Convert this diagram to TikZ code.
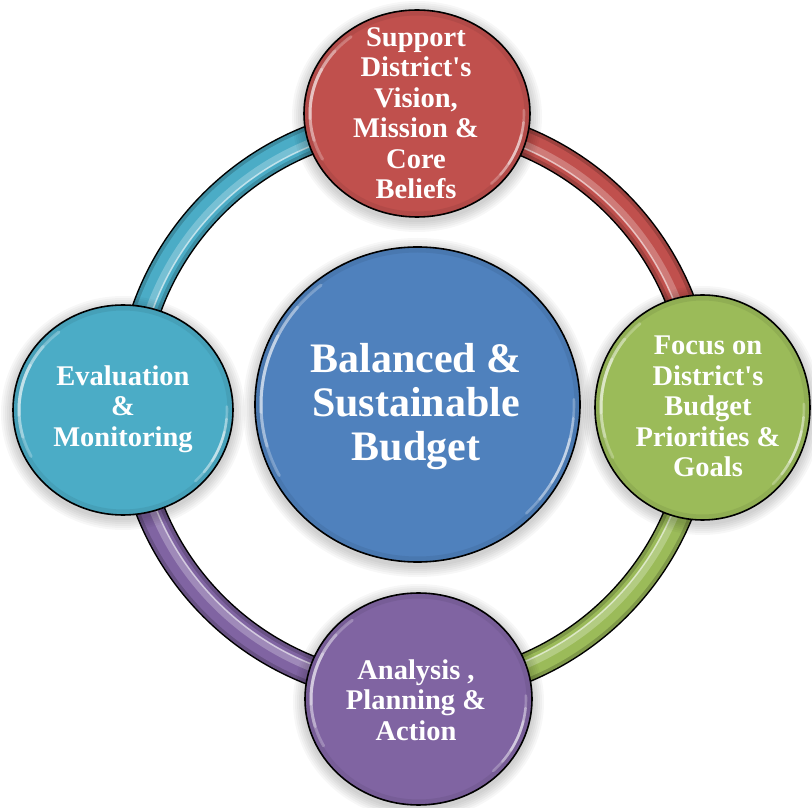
\documentclass[tikz,border=0pt]{standalone}
\usepackage{fontspec}
\setmainfont{Liberation Serif}[Ligatures=TeXOff]
\usetikzlibrary{calc}

\definecolor{ringred}{HTML}{C0504D}
\definecolor{ringgreen}{HTML}{9BBB59}
\definecolor{ringpurple}{HTML}{8064A2}
\definecolor{ringteal}{HTML}{4BACC6}
\definecolor{hubblue}{HTML}{4F81BD}

% glossy ball: centre x, centre y, x radius, y radius, colour
\newcommand\glossyball[5]{%
  \foreach \k in {2,4,...,12}
    \fill[black, opacity=0.03] (#1,#2-3) ellipse[x radius=#3+\k, y radius=#4+\k];
  \fill[#5] (#1,#2) ellipse[x radius=#3, y radius=#4];
  \draw[#5!85!black, line width=5, opacity=0.45] (#1,#2) ellipse[x radius=#3-3, y radius=#4-3];
  \draw[black, line width=1.6] (#1,#2) ellipse[x radius=#3, y radius=#4];
  \begin{scope}[shift={(#1,#2)}]
    \pgfmathsetmacro\hx{#3-6}
    \pgfmathsetmacro\hy{#4-6}
    \foreach \half/\op in {40/0.25,28/0.3,15/0.35} {
      \draw[white, line width=3, opacity=\op, line cap=round]
        ({168-\half}:\hx pt and \hy pt) arc[start angle={168-\half}, end angle={168+\half}, x radius=\hx, y radius=\hy];
      \draw[white, line width=2.6, opacity=\op, line cap=round]
        ({-22-\half*0.6}:\hx pt and \hy pt) arc[start angle={-22-\half*0.6}, end angle={-22+\half*0.6}, x radius=\hx, y radius=\hy];
    }
  \end{scope}
}

\begin{document}
\begin{tikzpicture}[x=1pt, y=1pt,
  balltext/.style={text=white, align=center, inner sep=0pt,
    font=\bfseries\fontsize{28.5}{30.5}\selectfont},
  hubtext/.style={text=white, align=center, inner sep=0pt,
    font=\bfseries\fontsize{42}{44}\selectfont}]
\useasboundingbox (0,0) rectangle (812,807);
\fill[white] (0,0) rectangle (812,807);

% the ring joining the four stages
\coordinate (hub) at (415,402);
\draw[black, line width=30] (hub) circle[radius=285];
\foreach \col/\a/\b in {ringred/90/0, ringgreen/0/-90, ringpurple/-90/-180, ringteal/180/90} {
  \draw[\col!82!black, line width=27] ([shift={(\a:285)}]hub) arc[start angle=\a, end angle=\b, radius=285];
  \draw[\col, line width=20] ([shift={(\a:285)}]hub) arc[start angle=\a, end angle=\b, radius=285];
  \draw[\col!55!white, line width=8, opacity=0.55] ([shift={(\a:282)}]hub) arc[start angle=\a, end angle=\b, radius=282];
  \draw[white, line width=1.4, opacity=0.55] ([shift={(\a:279)}]hub) arc[start angle=\a, end angle=\b, radius=279];
}

% balls
\glossyball{417.5}{402.5}{162.5}{157.5}{hubblue}
\glossyball{417}{693.5}{113}{103.5}{ringred}
\glossyball{702.5}{399.5}{107.5}{112.5}{ringgreen}
\glossyball{418.5}{108}{113.5}{106}{ringpurple}
\glossyball{123}{397}{110}{105}{ringteal}

% labels
\node[hubtext] (budget) at (416,400) {Balanced \&\\Sustainable\\Budget};
\node[balltext] (vision) at (416,694) {Support\\District's\\Vision,\\Mission \&\\Core\\Beliefs};
\node[balltext] (focus) at (708,400.5) {Focus on\\District's\\Budget\\Priorities \&\\Goals};
\node[balltext] (analysis) at (416,107) {Analysis ,\\Planning \&\\Action};
\node[balltext] (evaluation) at (123,398) {Evaluation\\\&\\Monitoring};
\end{tikzpicture}
\end{document}
